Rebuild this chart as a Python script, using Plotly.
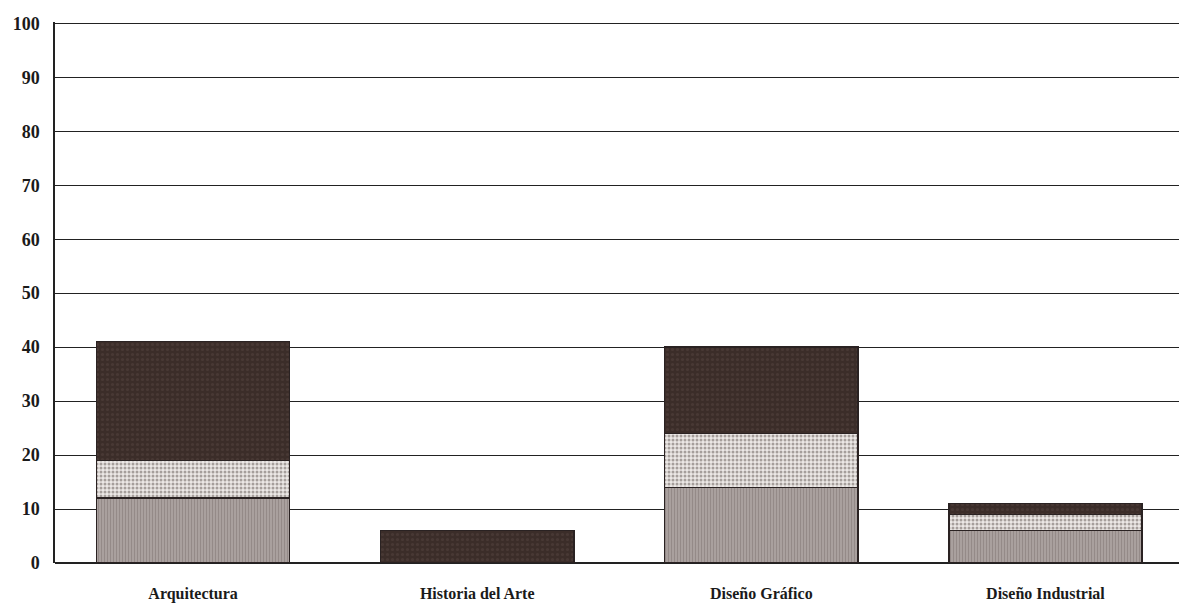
import plotly.graph_objects as go

categories = ["Arquitectura", "Historia del Arte", "Diseño Gráfico", "Diseño Industrial"]
bottom_vals = [12, 0, 14, 6]
middle_vals = [7, 0, 10, 3]
top_vals = [22, 6, 16, 2]
y_ticks = [0, 10, 20, 30, 40, 50, 60, 70, 80, 90, 100]

fig = go.Figure()

# bottom segment: grey with fine vertical texture
fig.add_trace(go.Bar(
    x=categories, y=bottom_vals, name="a",
    marker=dict(color="#a39896", line=dict(color="#2a2222", width=1.5),
                pattern=dict(shape="|", fgcolor="#7f7371", bgcolor="#a9a09e",
                             size=3, solidity=0.35)),
))
# middle segment: light dotted
fig.add_trace(go.Bar(
    x=categories, y=middle_vals, name="b",
    marker=dict(color="#e8e2de", line=dict(color="#2a2222", width=1.5),
                pattern=dict(shape=".", fgcolor="#5e5450", bgcolor="#ece8e6",
                             size=4, solidity=0.45)),
))
# top segment: dark brown
fig.add_trace(go.Bar(
    x=categories, y=top_vals, name="c",
    marker=dict(color="#3e302c", line=dict(color="#2a2222", width=1.5),
                pattern=dict(shape=".", fgcolor="#554440", bgcolor="#3b2d29",
                             size=5, solidity=0.3)),
))

fig.update_layout(
    barmode="stack",
    bargap=0.32,
    width=1179, height=607,
    margin=dict(l=55, r=0, t=22, b=44, autoexpand=False),
    paper_bgcolor="white", plot_bgcolor="white",
    showlegend=False,
    font=dict(family="Liberation Serif", color="#1a1a1a"),
    xaxis=dict(range=[-0.486, 3.47], showgrid=False, ticks="", automargin=False,
               tickfont=dict(size=16, family="Liberation Serif", weight="bold"),
               ticklabelstandoff=19, showline=False, fixedrange=True),
    # range a touch above 100 so the top gridline is drawn
    yaxis=dict(range=[0, 100.25], tickvals=y_ticks, showgrid=True, automargin=False,
               gridcolor="#222", gridwidth=1.3, zeroline=True,
               zerolinecolor="#222", zerolinewidth=1.5,
               showline=True, linecolor="#222", linewidth=1.5,
               ticks="", ticklabelstandoff=10,
               tickfont=dict(size=18, family="Liberation Serif", weight="bold")),
)

# drop the default page margin so the figure fills the window exactly
fig.write_html("out.html", config={"displayModeBar": False},
               post_script="document.body.style.margin='0';")
